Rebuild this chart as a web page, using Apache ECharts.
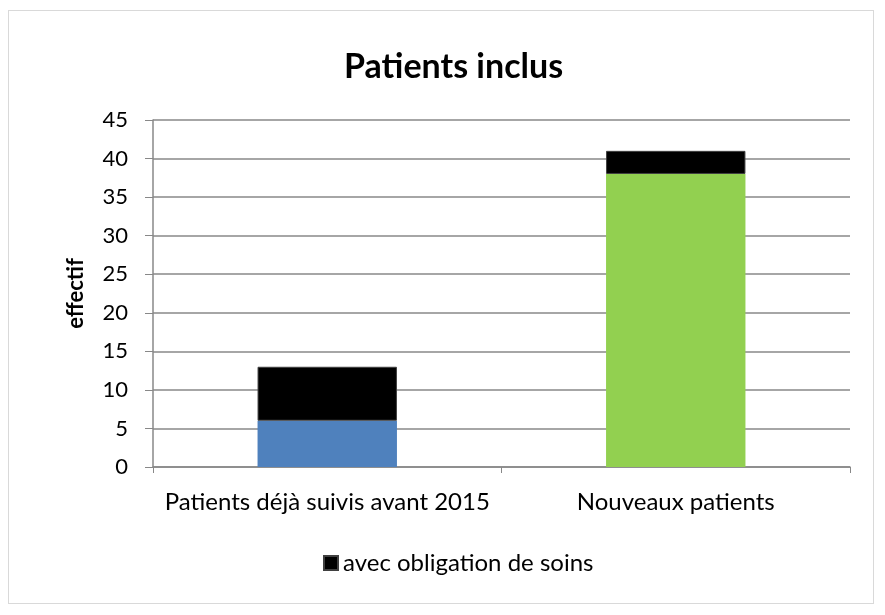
<!DOCTYPE html>
<html>
<head>
<meta charset="utf-8">
<script src="https://cdn.jsdelivr.net/npm/echarts@6/dist/echarts.min.js"></script>
<style>
  html, body { margin: 0; padding: 0; background: #fff; }
  #chart { width: 885px; height: 615px; }
  .frame { position: absolute; left: 8px; top: 10px; width: 866px; height: 594px; border: 1.5px solid #d9d9d9; box-sizing: border-box; pointer-events: none; }
</style>
</head>
<body>
<div id="chart"></div>
<div class="frame"></div>
<script>
// données
var categories = ['Patients déjà suivis avant 2015', 'Nouveaux patients'];
var baseValues = [6, 38];
var baseColors = ['#4F81BD', '#92D050'];
var obligationValues = [7, 3];

var font = 'Lato, "Open Sans", sans-serif';

var myChart = echarts.init(document.getElementById('chart'));

var option = {
  animation: false,
  title: {
    text: 'Patients inclus',
    left: 344,
    top: 50,
    padding: 0,
    textStyle: { fontFamily: font, fontSize: 34, fontWeight: 'bold', color: '#000' }
  },
  legend: {
    data: ['avec obligation de soins'],
    top: 546,
    left: 318,
    itemWidth: 14,
    itemHeight: 14,
    itemGap: 6,
    icon: 'rect',
    textStyle: { fontFamily: font, fontSize: 24, color: '#000' }
  },
  grid: { left: 153, right: 35, top: 120, bottom: 148 },
  xAxis: {
    type: 'category',
    data: categories,
    axisLine: { lineStyle: { color: '#888', width: 1.5 } },
    axisTick: { show: true, alignWithLabel: false, length: 6, lineStyle: { color: '#888' } },
    axisLabel: { interval: 0, fontFamily: font, fontSize: 24, color: '#000', margin: 23 }
  },
  yAxis: {
    type: 'value',
    min: 0,
    max: 45,
    interval: 5,
    name: 'effectif',
    nameLocation: 'middle',
    nameGap: 66,
    nameTextStyle: { fontFamily: font, fontSize: 22, fontWeight: 'bold', color: '#000' },
    axisLine: { show: true, lineStyle: { color: '#888', width: 1.5 } },
    axisTick: { show: true, length: 8, lineStyle: { color: '#888' } },
    axisLabel: { fontFamily: font, fontSize: 22, color: '#000', margin: 25 },
    splitLine: { lineStyle: { color: '#888', width: 1.5 } }
  },
  series: [
    {
      name: 'base',
      type: 'bar',
      stack: 'total',
      barWidth: '40%',
      data: baseValues.map(function (v, i) {
        return { value: v, itemStyle: { color: baseColors[i] } };
      })
    },
    {
      name: 'avec obligation de soins',
      type: 'bar',
      stack: 'total',
      barWidth: '40%',
      itemStyle: { color: '#000', borderColor: '#404040', borderWidth: 1 },
      data: obligationValues
    }
  ]
};

myChart.setOption(option);
</script>
</body>
</html>
